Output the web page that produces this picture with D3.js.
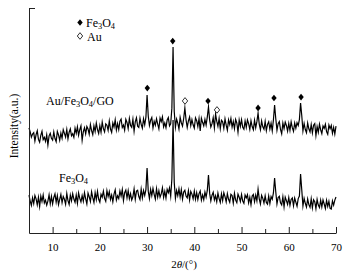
<!DOCTYPE html>
<html><head><meta charset="utf-8">
<script src="https://cdn.jsdelivr.net/npm/d3@7/dist/d3.min.js"></script>
<style>html,body{margin:0;padding:0;background:#fff;}svg{display:block;}</style>
</head><body><svg id="c" width="356" height="279"></svg>
<script>
// ---- data ----
const xStart = 5, xStep = 0.25;           // 2θ sampling grid (deg)
const seriesNames = ["Au/Fe3O4/GO", "Fe3O4"];
// Au/Fe3O4/GO intensities (a.u.), one group of 4 per degree 5..69, then 70
const auFeGO = [
46.7,44.9,42.6,44.0, 44.6,40.9,43.7,45.4, 41.6,40.4,43.4,45.2, 41.5,42.5,40.7,43.6, 39.1,43.2,44.3,42.1,
41.3,44.9,42.0,40.6, 45.1,43.6,41.2,44.4, 42.1,45.9,44.3,42.6, 46.0,41.9,44.8,46.3, 43.2,44.1,42.5,46.6,
44.3,47.2,43.4,45.9, 47.6,41.2,45.0,46.8, 44.1,47.3,46.2,43.9, 48.2,45.5,43.7,47.6, 45.1,48.9,46.0,44.2,
47.7,44.8,49.3,46.4, 45.0,48.5,47.9,45.6, 49.8,46.2,44.7,48.9, 47.1,50.3,45.8,48.6, 46.0,49.7,50.6,46.9,
48.0,45.7,50.5,49.1, 46.4,50.9,47.8,47.0, 50.6,45.3,49.4,51.2, 47.5,46.9,51.0,48.3, 46.6,50.8,48.1,51.4,
61.3,52.0,47.8,50.1, 51.3,46.7,49.6,47.9, 50.8,48.4,46.3,51.1, 49.5,51.6,47.2,48.9, 46.8,50.2,51.3,47.6,
48.5,55.5,82.7,54.0, 47.0,50.6,48.8,46.2, 51.4,49.0,47.5,50.9, 55.6,50.3,46.9,49.8, 51.5,47.7,50.4,48.1,
46.6,51.2,49.9,47.3, 50.8,45.4,51.0,49.2, 47.6,50.5,48.0,51.6, 56.0,50.2,47.1,48.6, 51.3,46.8,52.9,49.7,
47.4,50.9,46.3,50.1, 49.4,46.5,50.7,47.9, 45.7,50.3,48.2,50.9, 47.1,49.6,46.4,50.5, 48.9,44.8,50.2,47.4,
50.4,47.0,46.1,49.8, 46.9,50.3,48.6,46.0, 49.9,47.3,45.9,50.1, 46.8,49.5,53.3,48.4, 45.9,49.8,47.2,46.1,
49.6,45.5,48.3,49.4, 46.2,48.8,45.4,50.3, 56.9,50.8,45.7,48.6, 49.5,46.0,44.1,48.9, 46.4,49.3,47.8,45.3,
48.7,45.6,49.4,46.8, 45.2,48.9,46.6,49.0, 47.8,50.4,57.8,52.2, 45.4,48.7,46.0,44.6, 48.9,46.3,44.9,48.2,
44.5,47.9,48.6,43.3, 47.3,44.8,48.4,45.9, 44.2,47.6,46.5,48.3, 45.1,43.9,48.0,46.4, 47.8,44.3,46.9,44.0,
47.5];
// Fe3O4 intensities (a.u.)
const fe3o4 = [
16.8,14.2,12.3,15.6, 13.1,16.7,15.2,12.5, 15.9,11.8,16.4,14.0, 16.9,13.3,14.6,12.4, 14.2,17.0,13.0,16.3,
12.9,15.8,17.4,13.7, 16.6,12.6,14.9,17.1, 13.5,16.2,15.0,12.8, 17.6,14.4,12.7,16.8, 14.3,17.5,15.1,13.6,
16.9,13.2,17.8,15.4, 13.8,16.6,14.1,17.9, 15.2,12.9,17.7,16.1, 14.0,18.3,15.7,13.6, 17.9,14.8,18.5,15.0,
13.7,17.2,15.9,18.6, 15.4,14.1,18.8,16.2, 18.4,14.9,16.9,13.9, 17.3,19.2,14.6,16.5, 15.3,18.7,16.4,19.3,
14.4,17.9,19.1,15.6, 18.8,15.2,17.5,14.7, 16.1,19.6,15.0,18.6, 19.0,16.2,14.9,19.5, 15.6,18.9,16.7,19.3,
28.9,18.6,15.3,19.4, 16.6,19.8,17.2,15.1, 19.7,16.0,18.8,15.9, 17.4,20.1,15.8,18.5, 15.5,19.4,17.9,20.0,
16.3,24.0,50.2,22.5, 15.4,18.9,16.6,19.6, 16.0,19.3,15.1,18.2, 19.0,16.4,15.6,18.8, 14.7,18.5,17.3,15.2,
18.6,15.0,17.9,14.9, 17.5,18.7,14.6,16.9, 14.8,18.2,16.0,18.9, 25.8,17.6,14.3,16.8, 18.1,14.7,16.5,13.9,
17.8,15.3,13.6,17.4, 14.4,17.9,16.2,13.8, 17.5,15.0,13.7,17.2, 16.7,13.3,17.6,14.6, 13.5,17.3,15.9,14.0,
17.1,14.2,13.2,16.9, 15.6,17.0,13.4,15.9, 12.6,16.4,17.1,13.9, 16.8,14.3,19.5,15.2, 12.9,16.7,15.4,13.3,
16.5,13.6,12.8,16.4, 13.1,16.2,15.0,17.8, 24.4,18.2,12.9,15.8, 16.3,13.4,12.5,16.1, 11.6,15.9,14.4,12.7,
15.8,12.3,14.9,15.6, 12.1,15.5,13.7,11.9, 15.3,16.4,26.2,19.2, 12.0,15.4,13.2,11.5, 15.1,12.6,11.4,15.2,
11.2,14.8,13.9,10.8, 14.9,12.4,11.3,14.6, 11.6,14.7,12.9,10.9, 14.5,11.8,14.1,11.0, 10.7,14.3,12.4,14.6,
16.0];
// peak markers
const fePeakPos = [30.05, 35.43, 42.9, 53.5, 56.87, 62.6];
const feMarkY   = [64.4, 85.3, 58.7, 55.6, 60.0, 60.4];
const auPeakPos = [38.03, 44.8];
const auMarkY   = [58.7, 54.7];
const xMajor = [10, 20, 30, 40, 50, 60, 70];
const xMinor = [15, 25, 35, 45, 55, 65];
const legendItems = ["Fe3O4", "Au"];

// ---- drawing ----
const svg = d3.select("#c");
const FONT = "'Liberation Serif','Times New Roman',serif";
const x = d3.scaleLinear().domain([5, 70]).range([29, 336]);
const y = d3.scaleLinear().domain([0, 100]).range([233, 8]);

function chem(sel, str, size) {
  const parts = str.match(/(\d+|[^\d]+)/g);
  let sub = false;
  parts.forEach((p, k) => {
    const t = sel.append("tspan").text(p);
    if (/^\d+$/.test(p)) {
      t.attr("font-size", size * 0.7).attr("dy", size * 0.2);
      sub = true;
    } else if (sub) {
      t.attr("dy", -size * 0.2);
      sub = false;
    }
  });
  return sel;
}

const line = d3.line().x((d, i) => x(xStart + i * xStep)).y(d => y(d));
[auFeGO, fe3o4].forEach(s => {
  svg.append("path").datum(s).attr("d", line)
    .attr("fill", "none").attr("stroke", "#000").attr("stroke-width", 1.2)
    .attr("stroke-linejoin", "miter").attr("stroke-miterlimit", 10);
});

// axes
const gx = svg.append("g").attr("transform", "translate(0,233)")
  .call(d3.axisBottom(x).tickValues(xMajor).tickSize(-6).tickSizeOuter(0).tickPadding(10).tickFormat(d3.format("d")));
const gxm = svg.append("g").attr("transform", "translate(0,233)")
  .call(d3.axisBottom(x).tickValues(xMinor).tickSize(-4).tickSizeOuter(0).tickFormat(""));
gxm.select(".domain").remove();
const gy = svg.append("g").attr("transform", "translate(29,0)")
  .call(d3.axisLeft(y).tickValues([100]).tickSize(-6).tickSizeOuter(0).tickFormat(""));
[gx, gxm, gy].forEach(g => {
  g.selectAll("path,line").attr("stroke", "#222").attr("stroke-width", 1);
  g.selectAll("text").attr("font-family", FONT).attr("font-size", 11).attr("fill", "#000");
});

// markers
const diamond = "M0,-3.3L2.7,0L0,3.3L-2.7,0Z";
svg.selectAll(".fe").data(fePeakPos).enter().append("path")
  .attr("d", diamond).attr("fill", "#000")
  .attr("transform", (d, i) => `translate(${x(d)},${y(feMarkY[i])})`);
svg.selectAll(".au").data(auPeakPos).enter().append("path")
  .attr("d", diamond).attr("fill", "#fff").attr("stroke", "#000").attr("stroke-width", 0.8)
  .attr("transform", (d, i) => `translate(${x(d)},${y(auMarkY[i])})`);

// legend
svg.append("path").attr("d", diamond).attr("fill", "#000").attr("transform", "translate(80,22.5)");
svg.append("path").attr("d", diamond).attr("fill", "#fff").attr("stroke", "#000").attr("stroke-width", 0.8).attr("transform", "translate(80,36)");
chem(svg.append("text").attr("x", 86).attr("y", 26.5).attr("font-family", FONT).attr("font-size", 12), legendItems[0], 12);
chem(svg.append("text").attr("x", 87).attr("y", 40.5).attr("font-family", FONT).attr("font-size", 12), legendItems[1], 12);

// series labels
chem(svg.append("text").attr("x", 46).attr("y", 105).attr("font-family", FONT).attr("font-size", 12), seriesNames[0], 12);
chem(svg.append("text").attr("x", 59).attr("y", 182).attr("font-family", FONT).attr("font-size", 12), seriesNames[1], 12);

// axis titles
const xt = svg.append("text").attr("x", 184).attr("y", 268).attr("text-anchor", "middle")
  .attr("font-family", FONT).attr("font-size", 11);
xt.append("tspan").text("2");
xt.append("tspan").attr("font-style", "italic").text("θ");
xt.append("tspan").text("/(°)");
svg.append("text").attr("transform", "translate(18,126) rotate(-90)").attr("text-anchor", "middle")
  .attr("font-family", FONT).attr("font-size", 11.5).text("Intensity(a.u.)");
</script></body></html>
